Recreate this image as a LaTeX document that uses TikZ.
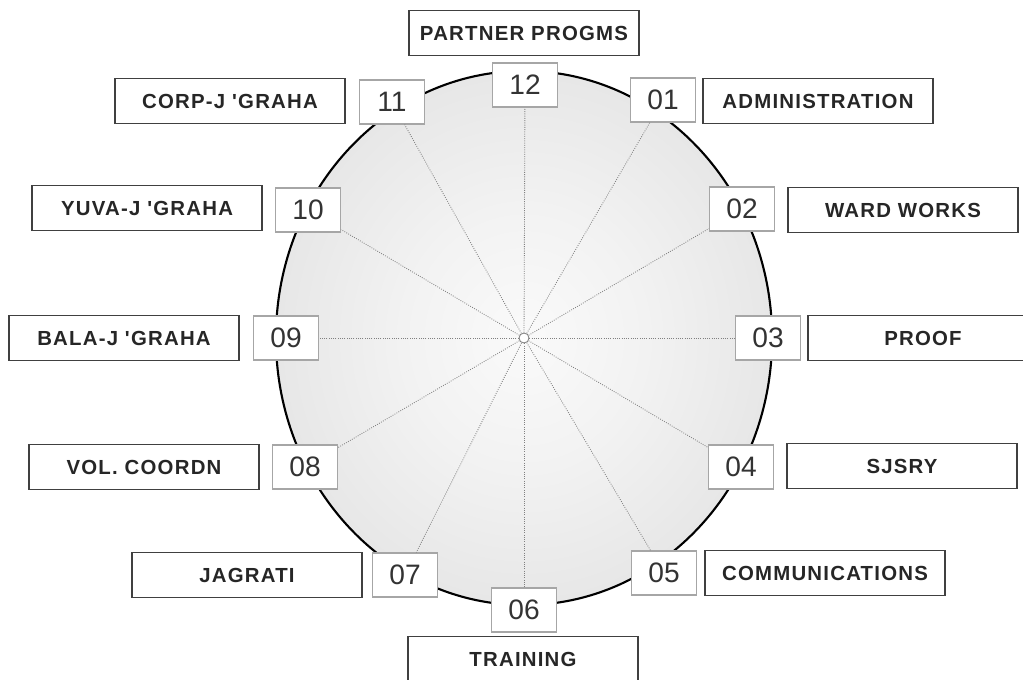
\documentclass[tikz,border=0pt]{standalone}
\usepackage{fontspec}
\usepackage{xcolor}
\usepackage{tikz}
\usetikzlibrary{positioning}

\newfontfamily\boxfont{Liberation Sans}[LetterSpace=6]
\newfontfamily\numfont{Liberation Sans}

\pgfdeclareradialshading{disc}{\pgfpoint{0bp}{0bp}}{%
  color(0bp)=(gray!4); color(12bp)=(gray!10); color(50bp)=(gray!36); color(72bp)=(gray!36)}

\begin{document}
\begin{tikzpicture}[
  x=0.025cm, y=-0.025cm,
  numbox/.style={rectangle, draw=gray!70, line width=0.9pt, fill=white, minimum width=1.625cm, minimum height=1.1cm, inner sep=0pt, font=\numfont\fontsize{20}{20}\selectfont, text=black!80},
  unitbox/.style={rectangle, draw=black!75, line width=1pt, fill=white, minimum width=5.75cm, minimum height=1.125cm, inner sep=0pt, font=\boxfont\bfseries\fontsize{14.5}{14.5}\selectfont, text=black!85},
  spoke/.style={gray, densely dotted, line width=0.6pt}
]
\useasboundingbox (0,0) rectangle (1023,679);
\clip (0,0) rectangle (1023,679);

% Dial
\coordinate (c) at (524,338);
\shade[shading=disc] (c) ellipse [x radius=6.2cm, y radius=6.675cm];
\draw[black, line width=1.5pt] (c) ellipse [x radius=6.2cm, y radius=6.675cm];
\node[circle, draw=gray, fill=white, line width=0.6pt, minimum size=0.25cm, inner sep=0pt] (hub) at (c) {};

% Hour boxes
\node[numbox] (n12) at (525,85) {12};
\node[numbox] (n01) at (663,100) {01};
\node[numbox] (n02) at (742,209) {02};
\node[numbox] (n03) at (768,338) {03};
\node[numbox] (n04) at (741,467) {04};
\node[numbox] (n05) at (664,573) {05};
\node[numbox] (n06) at (524,610) {06};
\node[numbox] (n07) at (405,575) {07};
\node[numbox] (n08) at (305,467) {08};
\node[numbox] (n09) at (286,338) {09};
\node[numbox] (n10) at (308,210) {10};
\node[numbox] (n11) at (392,102) {11};

% Spokes
\foreach \h in {01,02,03,04,05,06,07,08,09,10,11,12}
  \draw[spoke] (hub) -- (n\h);

% Unit labels
\node[unitbox] (partner) at (524,33) {PARTNER PROGMS};
\node[unitbox] (admin) at (818,101) {ADMINISTRATION};
\node[unitbox] (ward) at (903,210) {WARD WORKS};
\node[unitbox] (proof) at (923,338) {PROOF};
\node[unitbox] (sjsry) at (902,466) {SJSRY};
\node[unitbox, minimum width=6cm] (comm) at (825,573) {COMMUNICATIONS};
\node[unitbox] (training) at (523,659) {TRAINING};
\node[unitbox] (jagrati) at (247,575) {JAGRATI};
\node[unitbox] (vol) at (144,467) {VOL. COORDN};
\node[unitbox] (bala) at (124,338) {BALA-J 'GRAHA};
\node[unitbox] (yuva) at (147,208) {YUVA-J 'GRAHA};
\node[unitbox] (corp) at (230,101) {CORP-J 'GRAHA};

\end{tikzpicture}
\end{document}
